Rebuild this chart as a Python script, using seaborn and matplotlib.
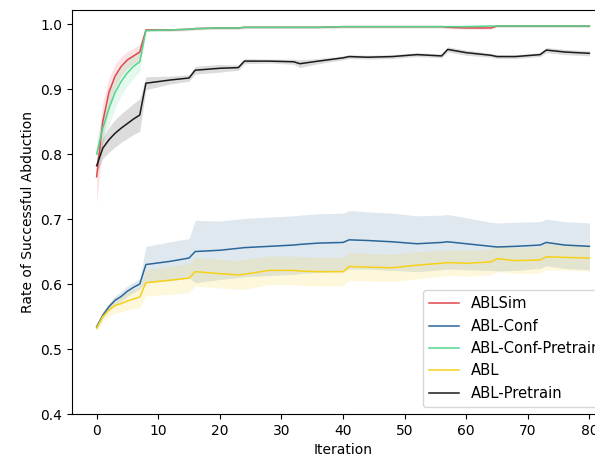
## Rate of successful abduction per iteration.

### Load packages.
import numpy as np
import pandas as pd
import seaborn as sb
import matplotlib
matplotlib.use("Agg")
import matplotlib.pyplot as plt

### Data (iteration grid shared by all runs).
iters = [0, 1, 2, 3, 4, 5, 6, 7, 8, 12, 15, 16, 20, 23, 24, 28, 32, 33, 36,
         40, 41, 44, 48, 52, 56, 57, 60, 64, 65, 68, 72, 73, 76, 80]

methods = ['ABLSim', 'ABL-Conf', 'ABL-Conf-Pretrain', 'ABL', 'ABL-Pretrain']
colors = ['#e0474e', '#2b6699', '#52d68e', '#f7d01a', '#1a1a1a']

abl_sim = [0.765, 0.850, 0.895, 0.920, 0.935, 0.945, 0.951, 0.957, 0.991, 0.991,
           0.992, 0.993, 0.994, 0.994, 0.995, 0.995, 0.995, 0.995, 0.995, 0.996,
           0.996, 0.996, 0.996, 0.996, 0.996, 0.995, 0.994, 0.994, 0.997, 0.997,
           0.997, 0.997, 0.997, 0.997]
abl_sim_err = [0.042, 0.030, 0.022, 0.018, 0.015, 0.013, 0.012, 0.012, 0.002, 0.002,
               0.002, 0.002, 0.002, 0.002, 0.002, 0.002, 0.002, 0.002, 0.002, 0.002,
               0.002, 0.002, 0.002, 0.002, 0.002, 0.002, 0.002, 0.002, 0.002, 0.002,
               0.002, 0.002, 0.002, 0.002]

abl_conf = [0.534, 0.552, 0.565, 0.575, 0.581, 0.589, 0.595, 0.600, 0.630, 0.635,
            0.640, 0.650, 0.652, 0.655, 0.656, 0.658, 0.660, 0.661, 0.663, 0.664,
            0.668, 0.667, 0.665, 0.662, 0.664, 0.665, 0.662, 0.658, 0.657, 0.658,
            0.660, 0.664, 0.660, 0.658]
abl_conf_err = [0.004, 0.005, 0.006, 0.007, 0.008, 0.008, 0.008, 0.008, 0.028, 0.030,
                0.030, 0.048, 0.045, 0.045, 0.045, 0.045, 0.045, 0.045, 0.045, 0.045,
                0.045, 0.044, 0.044, 0.043, 0.042, 0.042, 0.040, 0.037, 0.037, 0.037,
                0.036, 0.036, 0.036, 0.036]

abl_conf_pre = [0.800, 0.840, 0.870, 0.895, 0.912, 0.925, 0.935, 0.942, 0.990, 0.991,
                0.992, 0.993, 0.994, 0.994, 0.995, 0.995, 0.995, 0.995, 0.995, 0.996,
                0.996, 0.996, 0.996, 0.996, 0.996, 0.996, 0.996, 0.997, 0.997, 0.997,
                0.997, 0.997, 0.997, 0.997]
abl_conf_pre_err = [0.020, 0.022, 0.025, 0.025, 0.022, 0.020, 0.018, 0.015, 0.002, 0.002,
                    0.002, 0.002, 0.002, 0.002, 0.002, 0.002, 0.002, 0.002, 0.002, 0.002,
                    0.002, 0.002, 0.002, 0.002, 0.002, 0.002, 0.002, 0.002, 0.002, 0.002,
                    0.002, 0.002, 0.002, 0.002]

abl = [0.532, 0.550, 0.560, 0.567, 0.570, 0.574, 0.577, 0.580, 0.602, 0.606,
       0.609, 0.619, 0.616, 0.614, 0.615, 0.621, 0.621, 0.620, 0.619, 0.619,
       0.627, 0.626, 0.625, 0.629, 0.632, 0.633, 0.632, 0.634, 0.639, 0.636,
       0.637, 0.642, 0.641, 0.640]
abl_err = [0.004, 0.008, 0.010, 0.012, 0.013, 0.014, 0.015, 0.016, 0.020, 0.022,
           0.022, 0.022, 0.022, 0.022, 0.023, 0.022, 0.022, 0.022, 0.022, 0.022,
           0.022, 0.021, 0.021, 0.021, 0.020, 0.020, 0.020, 0.020, 0.020, 0.020,
           0.020, 0.020, 0.020, 0.020]

abl_pre = [0.782, 0.809, 0.822, 0.832, 0.840, 0.847, 0.854, 0.860, 0.909, 0.914,
           0.917, 0.929, 0.932, 0.933, 0.943, 0.943, 0.942, 0.939, 0.943, 0.948,
           0.950, 0.949, 0.950, 0.953, 0.951, 0.961, 0.956, 0.952, 0.950, 0.950,
           0.953, 0.960, 0.957, 0.955]
abl_pre_err = [0.012, 0.016, 0.019, 0.021, 0.022, 0.023, 0.024, 0.025, 0.010, 0.006,
               0.005, 0.006, 0.006, 0.004, 0.004, 0.003, 0.004, 0.006, 0.004, 0.003,
               0.003, 0.003, 0.003, 0.003, 0.003, 0.004, 0.004, 0.003, 0.003, 0.003,
               0.003, 0.004, 0.004, 0.004]

means = [abl_sim, abl_conf, abl_conf_pre, abl, abl_pre]
errs = [abl_sim_err, abl_conf_err, abl_conf_pre_err, abl_err, abl_pre_err]

### Long-form table for seaborn.
frames = []
for name, m, e in zip(methods, means, errs):
    frames.append(pd.DataFrame({'Iteration': iters, 'rate': m, 'err': e, 'method': name}))
data = pd.concat(frames, ignore_index=True)

## Plot.
fig = plt.figure(figsize=(5.95, 4.59), dpi=100)
# axes run past the right edge, like the cropped original
ax = fig.add_axes([0.121, 0.098, 0.911, 0.880])

for name, c in zip(methods, colors):
    sub = data[data['method'] == name]
    ax.fill_between(sub['Iteration'], sub['rate'] - sub['err'], sub['rate'] + sub['err'],
                    color=c, alpha=0.15, linewidth=0)

sb.lineplot(x='Iteration', y='rate', hue='method', hue_order=methods,
            palette=colors, data=data, linewidth=1.1, ax=ax)

ax.set_xlim(-4, 84)
ax.set_ylim(0.4, 1.0215)
ax.set_xticks(range(0, 81, 10))
ax.set_yticks(np.arange(0.4, 1.01, 0.1))
ax.set_yticklabels(['0.4', '0.5', '0.6', '0.7', '0.8', '0.9', '1.0'])
ax.set_xlabel('Iteration')
ax.set_ylabel('Rate of Successful Abduction')
ax.legend(loc='lower right', title=None, fontsize=10.6)

plt.savefig('out.png', dpi=100)
